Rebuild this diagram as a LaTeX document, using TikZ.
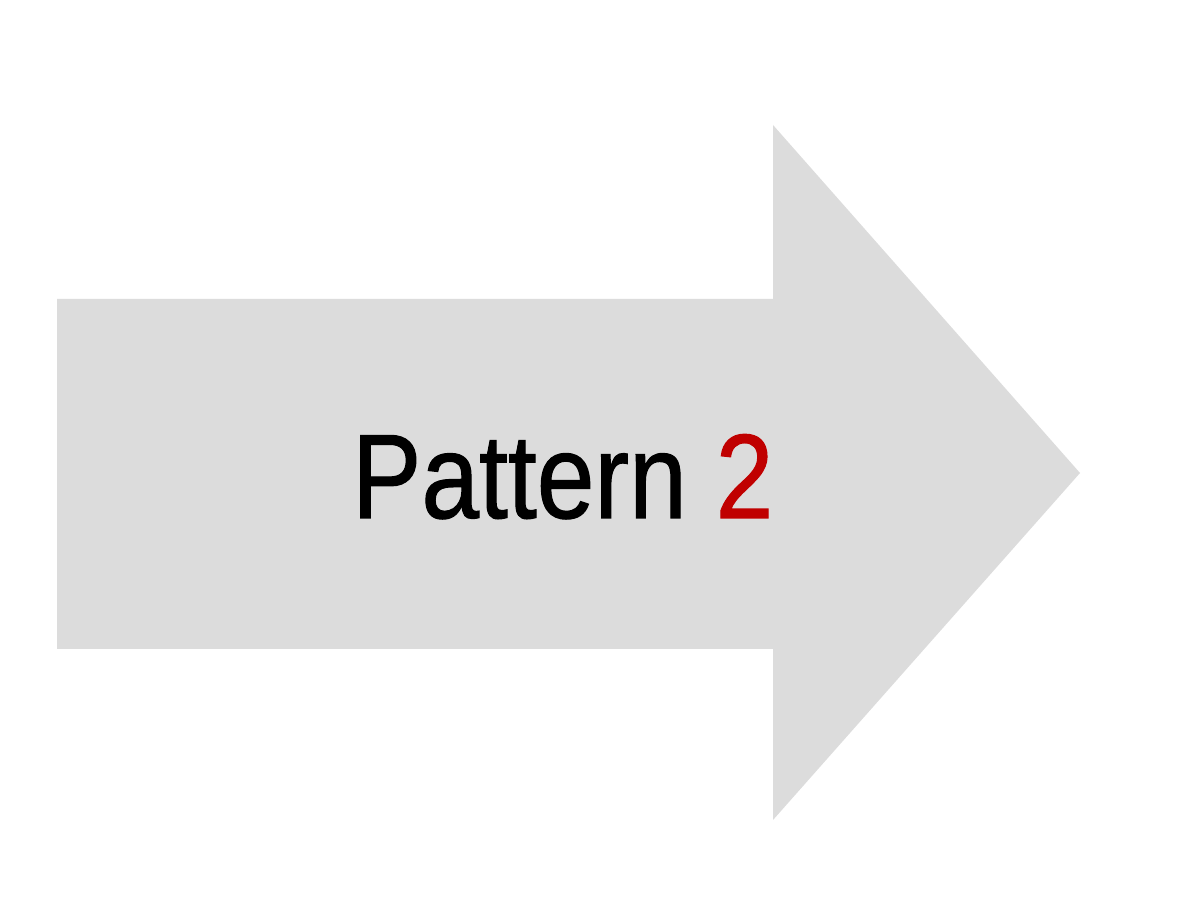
\documentclass[tikz,border=0pt]{standalone}
\usepackage{fontspec}
\setmainfont{Liberation Sans}
\newfontfamily\heavyfont[FakeBold=1]{Liberation Sans}
\definecolor{arrowgray}{HTML}{DCDCDC}
\definecolor{numred}{HTML}{C00000}
\begin{document}
\begin{tikzpicture}[x=1pt,y=1pt,
  bigarrow/.style={fill=arrowgray,draw=none},
  label/.style={inner sep=0pt,anchor=base west,xscale=0.865,font=\heavyfont\fontsize{120}{140}\selectfont}]
\useasboundingbox (0,0) rectangle (1200,897);
\fill[white] (0,0) rectangle (1200,897);
\path[bigarrow] (57,598) -- (773,598) -- (773,772) -- (1080,424) -- (773,77) -- (773,248) -- (57,248) -- cycle;
\node[label] (txt) at (352,379) {Pattern \textcolor{numred}{2}};
\end{tikzpicture}
\end{document}
